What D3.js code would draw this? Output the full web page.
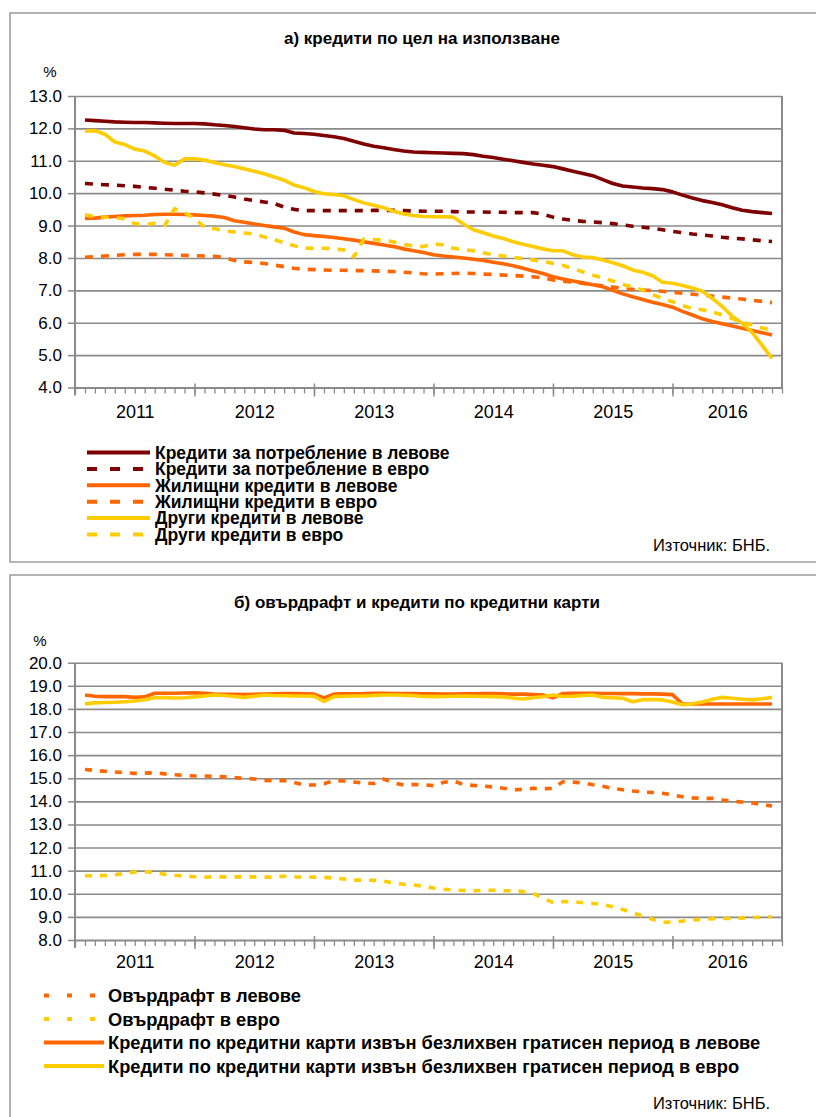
<!DOCTYPE html>
<html><head><meta charset="utf-8">
<script src="https://cdn.jsdelivr.net/npm/d3@7"></script>
<style>
body{margin:0;background:#fff}
svg{display:block}
text{font-family:"Liberation Sans",Arial,sans-serif;fill:#000}
</style>
</head><body>
<svg id="c" width="816" height="1117"></svg>
<script>
// ---------- DATA ----------
const years = ["2011","2012","2013","2014","2015","2016"];
const yearStart = [0,12,24,36,48,60];
const yearEnd = [12,24,36,48,60,71];
const nSlots = 71;

const topTicks = [4,5,6,7,8,9,10,11,12,13];
const bottomTicks = [8,9,10,11,12,13,14,15,16,17,18,19,20];

const topTitle = "а) кредити по цел на използване";
const bottomTitle = "б) овърдрафт и кредити по кредитни карти";
const sourceText = "Източник: БНБ.";

const topNames = [
  "Кредити за потребление в левове",
  "Кредити за потребление в евро",
  "Жилищни кредити в левове",
  "Жилищни кредити в евро",
  "Други кредити в левове",
  "Други кредити в евро"
];
const bottomNames = [
  "Овърдрафт в левове",
  "Овърдрафт в евро",
  "Кредити по кредитни карти извън безлихвен гратисен период в левове",
  "Кредити по кредитни карти извън безлихвен гратисен период в евро"
];

const consumerBGN = [12.26,12.24,12.22,12.2,12.19,12.18,12.18,12.17,12.16,12.15,12.15,12.15,
12.14,12.11,12.09,12.06,12.02,11.98,11.96,11.96,11.94,11.86,11.84,11.82,
11.78,11.74,11.69,11.6,11.52,11.45,11.4,11.35,11.3,11.27,11.26,11.25,
11.24,11.23,11.22,11.19,11.14,11.1,11.05,11.0,10.95,10.9,10.86,10.82,
10.75,10.68,10.61,10.54,10.42,10.3,10.22,10.19,10.16,10.14,10.11,10.04,
9.94,9.85,9.77,9.71,9.64,9.55,9.47,9.43,9.4,9.37];

const consumerEUR = [10.3,10.28,10.26,10.25,10.23,10.21,10.18,10.15,10.12,10.09,10.06,10.04,
10.01,9.97,9.93,9.88,9.82,9.77,9.73,9.68,9.57,9.5,9.46,9.46,
9.46,9.46,9.46,9.46,9.46,9.47,9.47,9.47,9.46,9.45,9.44,9.44,
9.44,9.43,9.42,9.42,9.42,9.41,9.41,9.4,9.4,9.4,9.35,9.26,
9.2,9.16,9.13,9.11,9.09,9.06,9.02,8.98,8.95,8.92,8.87,8.82,
8.78,8.74,8.71,8.68,8.64,8.61,8.59,8.56,8.53,8.51];

const housingBGN = [9.22,9.23,9.26,9.28,9.3,9.31,9.32,9.34,9.35,9.35,9.34,9.33,
9.31,9.29,9.25,9.15,9.1,9.05,9.0,8.96,8.92,8.8,8.72,8.69,
8.66,8.63,8.59,8.55,8.5,8.45,8.4,8.35,8.28,8.22,8.17,8.1,
8.06,8.03,8.0,7.96,7.92,7.87,7.82,7.76,7.68,7.6,7.52,7.42,
7.35,7.29,7.23,7.17,7.11,7.0,6.89,6.8,6.72,6.63,6.56,6.48,
6.35,6.24,6.12,6.04,5.97,5.9,5.83,5.76,5.69,5.62];

const housingEUR = [8.02,8.04,8.06,8.08,8.1,8.11,8.11,8.11,8.1,8.09,8.08,8.07,
8.06,8.05,8.02,7.92,7.88,7.86,7.83,7.78,7.73,7.68,7.65,7.64,
7.63,7.62,7.62,7.61,7.61,7.6,7.59,7.58,7.56,7.54,7.51,7.5,
7.51,7.52,7.53,7.52,7.5,7.49,7.47,7.46,7.44,7.42,7.38,7.32,
7.28,7.25,7.21,7.17,7.14,7.1,7.06,7.03,7.01,6.99,6.97,6.94,
6.91,6.88,6.85,6.82,6.79,6.76,6.73,6.69,6.66,6.62];

const otherBGN = [11.92,11.93,11.82,11.58,11.5,11.36,11.3,11.15,10.95,10.86,11.06,11.06,
11.02,10.95,10.88,10.82,10.75,10.68,10.6,10.5,10.4,10.25,10.17,10.05,
9.98,9.96,9.92,9.8,9.7,9.63,9.55,9.44,9.36,9.31,9.28,9.27,
9.27,9.26,9.05,8.87,8.78,8.68,8.6,8.5,8.42,8.35,8.28,8.22,
8.22,8.1,8.03,8.01,7.94,7.85,7.76,7.63,7.56,7.45,7.25,7.22,
7.15,7.07,6.97,6.75,6.5,6.2,5.98,5.7,5.3,4.9];

const otherEUR = [9.33,9.28,9.26,9.25,9.2,9.06,9.03,9.07,9.0,9.52,9.4,9.22,
8.95,8.9,8.84,8.8,8.77,8.74,8.65,8.57,8.47,8.38,8.3,8.3,
8.3,8.28,8.25,8.03,8.58,8.57,8.55,8.49,8.42,8.37,8.35,8.44,
8.4,8.3,8.26,8.22,8.16,8.1,8.06,8.02,7.98,7.94,7.89,7.83,
7.77,7.67,7.57,7.47,7.38,7.29,7.18,7.1,7.01,6.87,6.75,6.65,
6.53,6.44,6.4,6.33,6.24,6.13,6.02,5.93,5.84,5.76];

const overdraftBGN = [15.38,15.34,15.3,15.27,15.24,15.21,15.22,15.24,15.19,15.15,15.12,15.1,
15.1,15.08,15.06,15.02,15.0,14.97,14.91,14.88,14.9,14.82,14.71,14.71,
14.76,14.9,14.88,14.84,14.79,14.77,14.96,14.8,14.71,14.73,14.72,14.68,
14.82,14.88,14.73,14.69,14.66,14.62,14.57,14.5,14.52,14.56,14.55,14.56,
14.85,14.83,14.8,14.72,14.65,14.56,14.5,14.45,14.41,14.38,14.35,14.28,
14.2,14.15,14.13,14.13,14.06,14.0,13.97,13.93,13.86,13.8];

const overdraftEUR = [10.78,10.78,10.79,10.82,10.88,10.94,10.96,10.93,10.84,10.8,10.77,10.74,
10.72,10.73,10.73,10.73,10.73,10.73,10.72,10.72,10.76,10.74,10.71,10.72,
10.71,10.68,10.64,10.59,10.59,10.58,10.55,10.47,10.41,10.38,10.33,10.25,
10.2,10.16,10.14,10.13,10.15,10.15,10.13,10.13,10.1,10.02,9.8,9.63,
9.66,9.66,9.61,9.58,9.54,9.44,9.32,9.18,9.03,8.9,8.76,8.78,
8.82,8.87,8.9,8.92,8.93,8.93,8.95,8.97,8.99,9.0];

const cardsBGN = [18.6,18.55,18.53,18.53,18.53,18.5,18.52,18.68,18.68,18.68,18.69,18.7,
18.68,18.64,18.63,18.63,18.62,18.63,18.64,18.65,18.66,18.66,18.65,18.64,
18.48,18.64,18.65,18.65,18.66,18.68,18.68,18.67,18.67,18.66,18.65,18.65,
18.64,18.64,18.65,18.65,18.66,18.66,18.65,18.64,18.64,18.62,18.6,18.48,
18.67,18.68,18.68,18.68,18.67,18.67,18.66,18.66,18.65,18.65,18.64,18.62,
18.21,18.21,18.21,18.21,18.21,18.21,18.21,18.21,18.21,18.21];

const cardsEUR = [18.22,18.26,18.28,18.29,18.31,18.34,18.4,18.48,18.49,18.47,18.48,18.52,
18.56,18.6,18.58,18.54,18.5,18.55,18.6,18.58,18.57,18.56,18.56,18.55,
18.32,18.53,18.55,18.56,18.56,18.58,18.6,18.6,18.59,18.57,18.54,18.53,
18.54,18.55,18.56,18.55,18.54,18.53,18.52,18.47,18.43,18.48,18.53,18.6,
18.54,18.55,18.58,18.6,18.5,18.48,18.46,18.31,18.4,18.41,18.39,18.3,
18.18,18.22,18.3,18.42,18.5,18.46,18.42,18.39,18.44,18.5];

// ---------- DRAWING ----------
const MAROON = "#7f0000", ORANGE = "#ff6600", YELLOW = "#ffcc00", GRID = "#8a8a8a";
const svg = d3.select("#c");

function drawPanel(o) {
  const g = svg.append("g");
  g.append("rect").attr("x", o.frame[0]).attr("y", o.frame[1]).attr("width", o.frame[2]).attr("height", o.frame[3])
    .attr("fill", "none").attr("stroke", "#8c8c8c").attr("stroke-width", 1.3);
  const x = d3.scaleLinear().domain([0, nSlots]).range([o.left, o.right]);
  const y = d3.scaleLinear().domain([o.ticks[0], o.ticks[o.ticks.length - 1]]).range([o.bottom, o.top]);

  g.append("g").attr("transform", `translate(${o.left},0)`)
    .call(d3.axisLeft(y).tickValues(o.ticks.slice(1)).tickSize(-(o.right - o.left)).tickFormat(""))
    .call(s => s.select(".domain").remove())
    .call(s => s.selectAll("line").attr("stroke", GRID).attr("stroke-width", 1.6));
  g.append("line").attr("x1", x(nSlots)).attr("x2", x(nSlots)).attr("y1", y.range()[1]).attr("y2", y.range()[0] + 1)
    .attr("stroke", GRID).attr("stroke-width", 2);

  g.append("g").attr("transform", `translate(0,${o.bottom})`)
    .call(d3.axisBottom(x).tickValues(d3.range(0, nSlots + 1)).tickSize(6).tickSizeOuter(0).tickFormat(""))
    .call(s => s.select(".domain").attr("stroke", GRID).attr("stroke-width", 2))
    .call(s => s.selectAll(".tick line").attr("stroke", GRID).attr("stroke-width", 1.3));
  g.append("g").attr("transform", `translate(0,${o.bottom})`)
    .call(d3.axisBottom(x).tickValues(yearStart.slice(1)).tickSize(9).tickFormat(""))
    .call(s => s.select(".domain").remove())
    .call(s => s.selectAll(".tick line").attr("y1", -4).attr("stroke", GRID).attr("stroke-width", 1.5));
  g.append("g").attr("transform", `translate(0,${o.bottom})`)
    .call(d3.axisBottom(x).tickValues(years.map((d, i) => (yearStart[i] + yearEnd[i]) / 2))
      .tickFormat((d, i) => years[i]).tickSize(0).tickPadding(o.xPad))
    .call(s => s.select(".domain").remove())
    .call(s => s.selectAll("text").attr("font-size", 18).attr("font-family", "Liberation Sans, Arial, sans-serif"));

  g.append("g").attr("transform", `translate(${o.left},0)`)
    .call(d3.axisLeft(y).tickValues(o.ticks).tickFormat(d3.format(".1f")).tickSize(7).tickSizeOuter(0).tickPadding(6))
    .call(s => s.select(".domain").remove())
    .call(s => s.selectAll(".tick line").attr("stroke", GRID).attr("stroke-width", 1.5))
    .call(s => s.selectAll("text").attr("font-size", 17).attr("font-family", "Liberation Sans, Arial, sans-serif"));
  g.append("line").attr("x1", o.left).attr("x2", o.left).attr("y1", o.top).attr("y2", o.bottom + 8)
    .attr("stroke", GRID).attr("stroke-width", 2);

  const line = d3.line().x((d, i) => x(i + 1)).y(d => y(d));
  o.series.forEach(s => {
    g.append("path").datum(s.values).attr("d", line)
      .attr("fill", "none").attr("stroke", s.color).attr("stroke-width", 3.6)
      .attr("stroke-linejoin", "round").attr("stroke-dasharray", s.dash || null);
  });

  g.append("text").attr("x", o.titleX).attr("y", o.titleY).attr("text-anchor", "middle")
    .attr("font-size", 17).attr("font-weight", "bold").text(o.title);
  g.append("text").attr("x", o.pctX).attr("y", o.pctY).attr("text-anchor", "middle")
    .attr("font-size", 15).text("%");

  o.series.forEach((s, i) => {
    const ly = o.legY + i * o.legStep;
    g.append("line").attr("x1", o.legX1).attr("x2", o.legX2).attr("y1", ly).attr("y2", ly)
      .attr("stroke", s.color).attr("stroke-width", 4).attr("stroke-dasharray", s.legDash || null);
    g.append("text").attr("x", o.legTX).attr("y", ly).attr("dy", "0.36em")
      .attr("font-size", o.legFont).attr("font-weight", "bold").text(s.name);
  });

  g.append("text").attr("x", o.srcX).attr("y", o.srcY)
    .attr("font-size", 16.5).text(sourceText);
}

drawPanel({
  frame: [10, 13, 830, 549],
  left: 75, right: 782, top: 96, bottom: 387.5, ticks: topTicks, xPad: 18,
  title: topTitle, titleX: 422, titleY: 44, pctX: 50, pctY: 77,
  legX1: 87, legX2: 150, legTX: 155, legY: 452.5, legStep: 16.4, legFont: 17.5,
  srcX: 653, srcY: 551,
  series: [
    {name: topNames[0], values: consumerBGN, color: MAROON},
    {name: topNames[1], values: consumerEUR, color: MAROON, dash: "8,8", legDash: "10,13"},
    {name: topNames[2], values: housingBGN, color: ORANGE},
    {name: topNames[3], values: housingEUR, color: ORANGE, dash: "8,8", legDash: "10,13"},
    {name: topNames[4], values: otherBGN, color: YELLOW},
    {name: topNames[5], values: otherEUR, color: YELLOW, dash: "8,8", legDash: "10,13"}
  ]
});

drawPanel({
  frame: [10, 575, 830, 600],
  left: 75, right: 782, top: 662.7, bottom: 940, ticks: bottomTicks, xPad: 15.5,
  title: bottomTitle, titleX: 417, titleY: 608, pctX: 40, pctY: 646,
  legX1: 44, legX2: 104, legTX: 108, legY: 995.5, legStep: 23.5, legFont: 18.3,
  srcX: 653, srcY: 1109,
  series: [
    {name: bottomNames[0], values: overdraftBGN, color: ORANGE, dash: "7,8", legDash: "5,18"},
    {name: bottomNames[1], values: overdraftEUR, color: YELLOW, dash: "7,8", legDash: "5,18"},
    {name: bottomNames[2], values: cardsBGN, color: ORANGE},
    {name: bottomNames[3], values: cardsEUR, color: YELLOW}
  ]
});
</script>
</body></html>
